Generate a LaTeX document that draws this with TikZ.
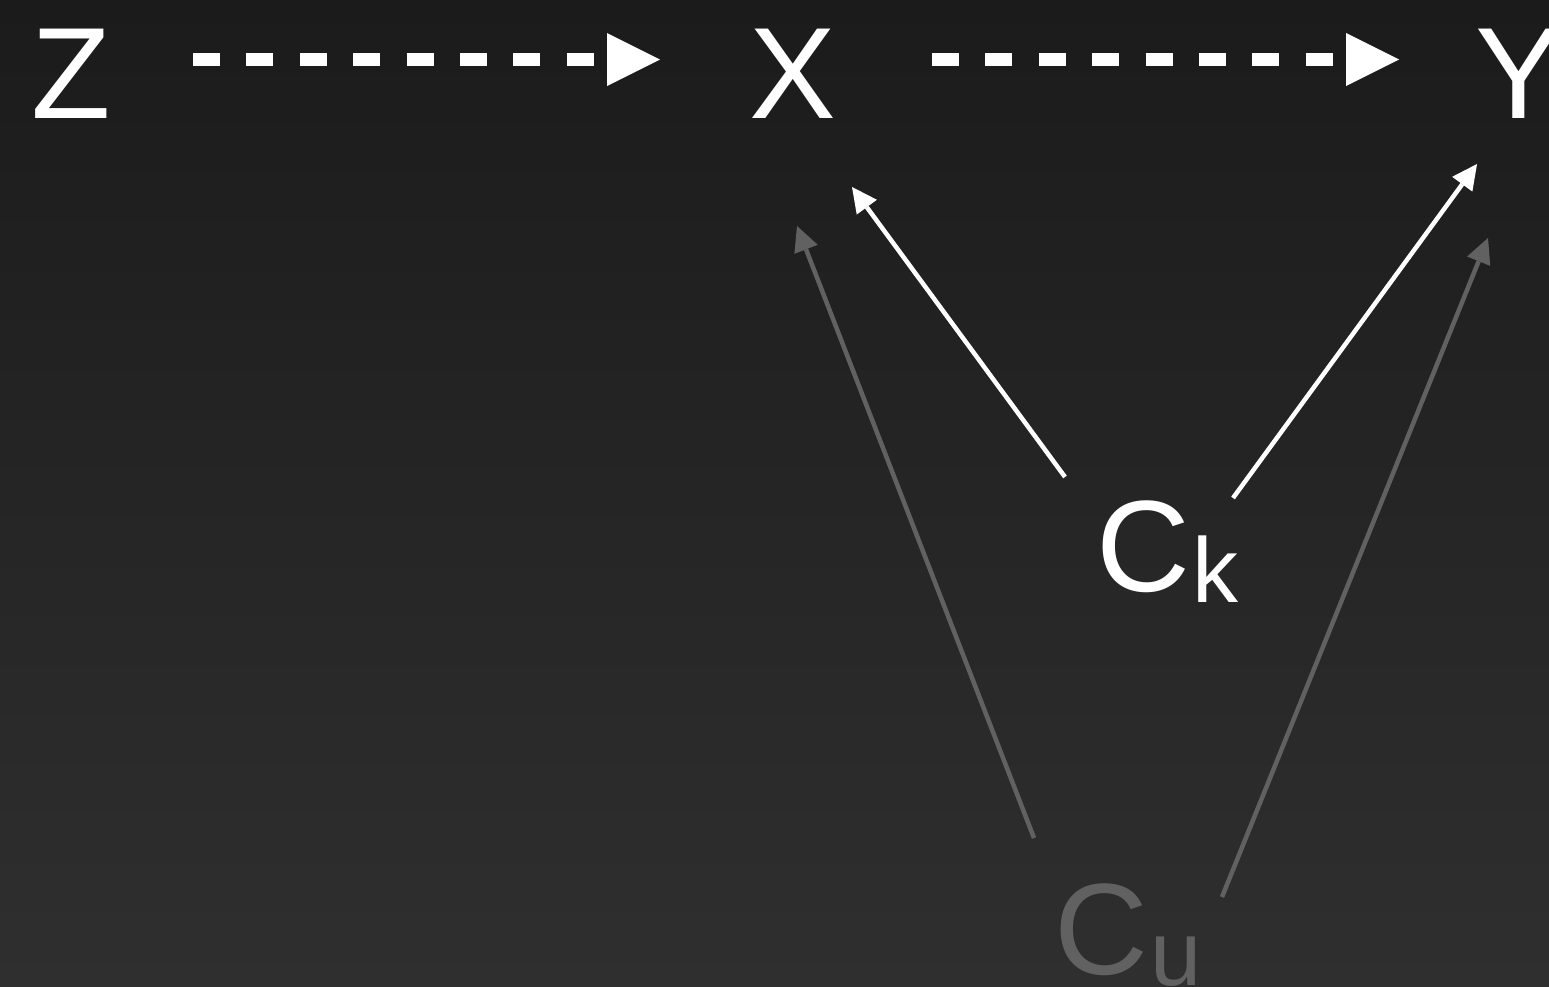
\documentclass[tikz,border=0pt]{standalone}
\usepackage{fontspec}
\setmainfont{Liberation Sans}
\usetikzlibrary{arrows.meta}
\definecolor{bgtop}{HTML}{1B1B1B}
\definecolor{bgbot}{HTML}{2F2F2F}
\definecolor{dimgrey}{HTML}{616161}
\tikzset{
  lbl/.style={inner sep=0pt, outer sep=0pt, anchor=base west, text=white,
    font=\fontsize{130pt}{130pt}\selectfont},
  dimlbl/.style={lbl, text=dimgrey},
  dasharrow/.style={draw=white, line width=13pt, line cap=butt,
    dash pattern=on 27pt off 26.4pt,
    -{Triangle[length=53pt, width=53pt, line width=0pt]}},
  solidarrow/.style={draw=white, line width=4.5pt,
    -{Triangle[length=25pt, width=25pt, line width=0pt]}},
  greyarrow/.style={solidarrow, draw=dimgrey}
}
\newcommand{\subk}[1]{\kern3pt\raisebox{-11pt}{\fontsize{92pt}{92pt}\selectfont #1}}
\begin{document}
\begin{tikzpicture}[x=1pt, y=-1pt]
  \useasboundingbox (0,0) rectangle (1549,986);
  \clip (0,0) rectangle (1549,986);
  \shade[top color=bgtop, bottom color=bgbot] (0,0) rectangle (1549,986);

  \node[lbl] (Z) at (31,118) {Z};
  \node[lbl] (X) at (749,118) {X};
  \node[lbl] (Y) at (1475,118) {Y};
  \node[lbl] (Ck) at (1096,591) {C\subk{k}};
  \node[dimlbl] (Cu) at (1054,974) {C\subk{u}};

  % connector end points
  \coordinate (zs) at (193,59.5);
  \coordinate (xe) at (660,59.5);
  \coordinate (xs) at (932,59.5);
  \coordinate (ye) at (1399,59.5);
  \coordinate (ckx) at (1065,477);
  \coordinate (xck) at (852,187);
  \coordinate (cky) at (1233,498);
  \coordinate (yck) at (1477,164);
  \coordinate (cux) at (1034,838);
  \coordinate (xcu) at (797,226);
  \coordinate (cuy) at (1222,897);
  \coordinate (ycu) at (1488,238);

  \draw[dasharrow] (zs) -- (xe);
  \draw[dasharrow] (xs) -- (ye);
  \draw[solidarrow] (ckx) -- (xck);
  \draw[solidarrow] (cky) -- (yck);
  \draw[greyarrow] (cux) -- (xcu);
  \draw[greyarrow] (cuy) -- (ycu);
\end{tikzpicture}
\end{document}
